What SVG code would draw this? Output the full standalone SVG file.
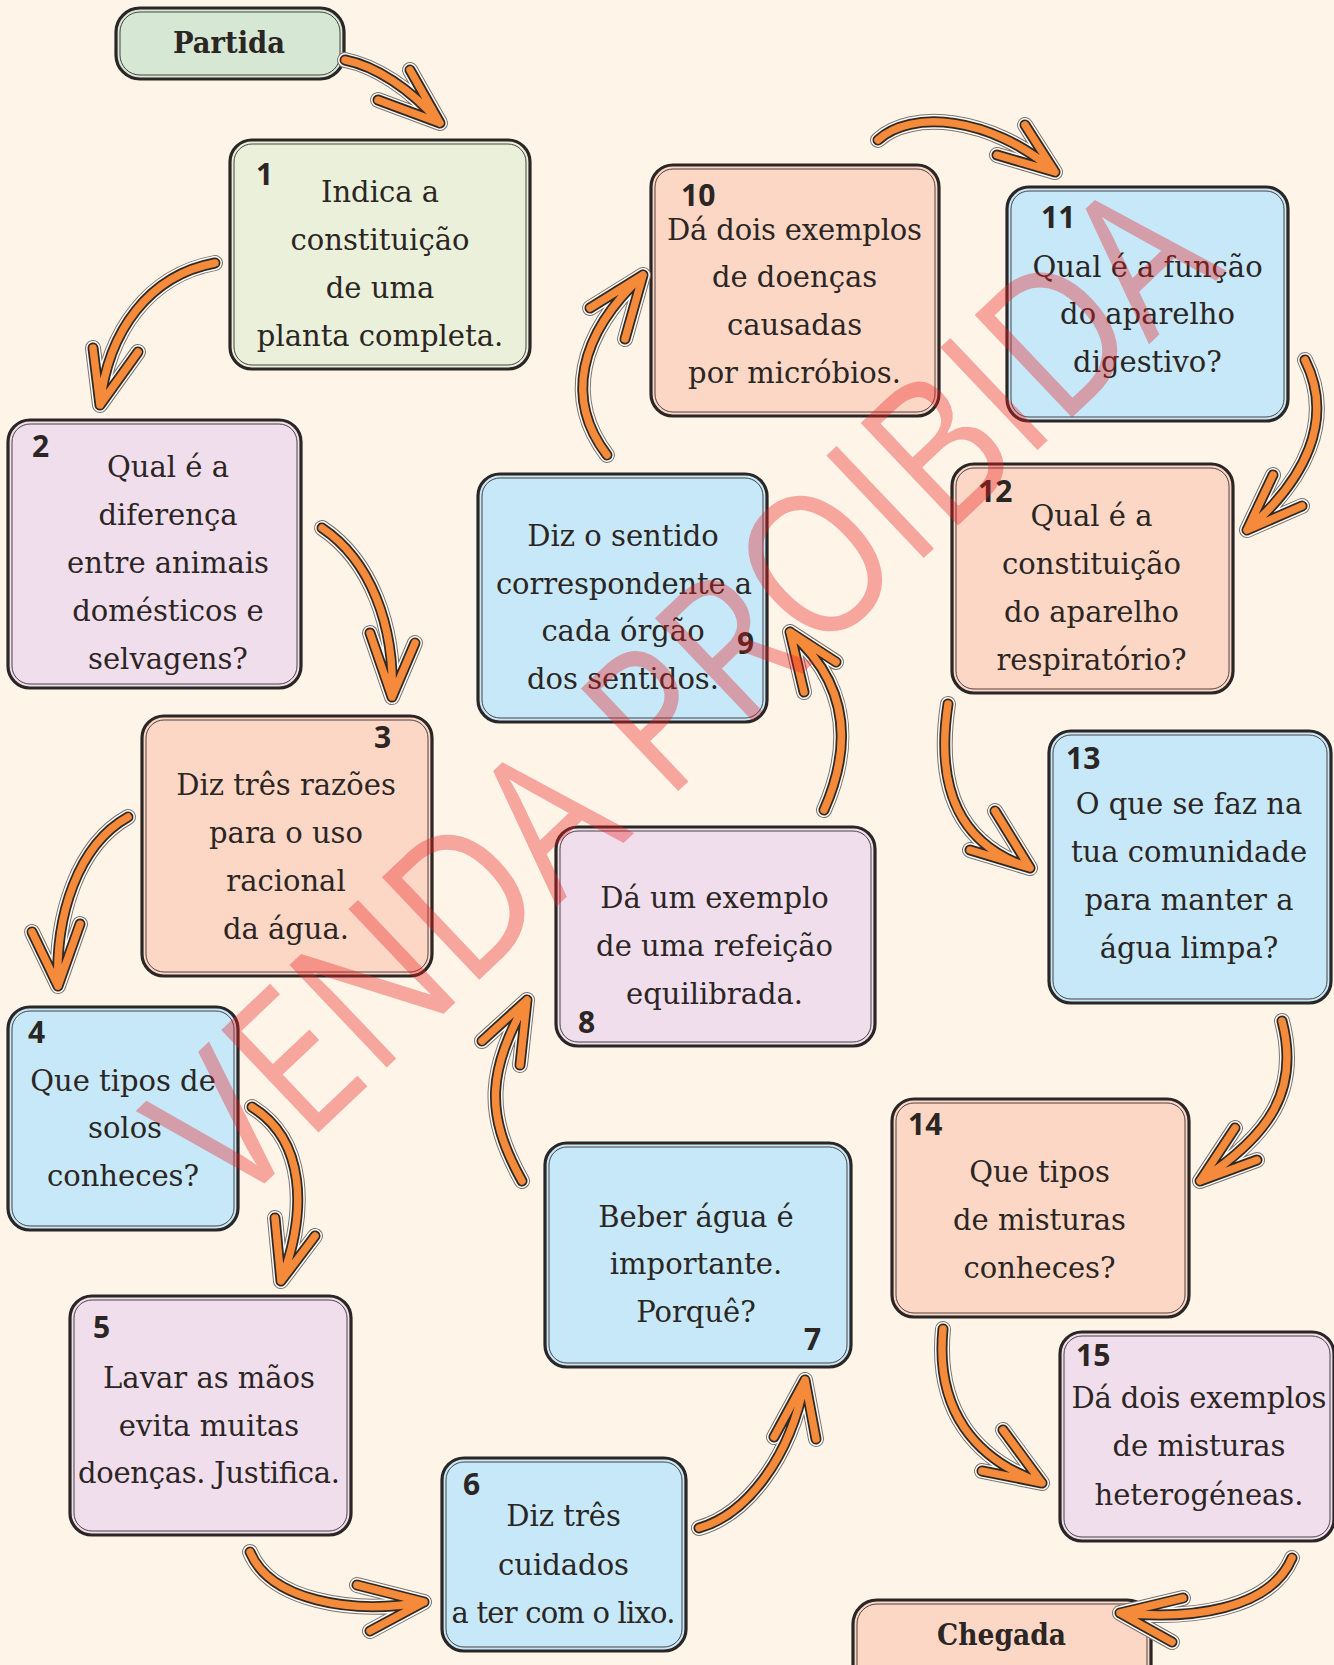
<svg xmlns="http://www.w3.org/2000/svg" xmlns:xlink="http://www.w3.org/1999/xlink" width="1334" height="1665" viewBox="0 0 1334 1665">
<defs>
<style>
.box{stroke:#2b2626;stroke-width:3.2}
.inner{fill:none;stroke:#4a4242;stroke-width:1}
.gr{fill:#d6e8d4}
.yg{fill:#eaf0da}
.li{fill:#f1deec}
.pe{fill:#fdd7c5}
.bl{fill:#c6e8f9}
.t{font-family:"DejaVu Serif","Liberation Serif",serif;font-size:29px;fill:#2b2523;text-anchor:middle}
.n{font-family:"Open Sans","DejaVu Sans",sans-serif;font-weight:700;font-size:30px;fill:#2b2523}
.lbl{font-family:"DejaVu Serif","Liberation Serif",serif;font-weight:700;font-size:30px;fill:#2b2523;text-anchor:middle}
.a1{fill:none;stroke:#7a7572;stroke-width:16;stroke-linecap:round;stroke-linejoin:round}
.a2{fill:none;stroke:#fffaf3;stroke-width:14;stroke-linecap:round;stroke-linejoin:round}
.a3{fill:none;stroke:#2d2926;stroke-width:11;stroke-linecap:round;stroke-linejoin:round}
.a4{fill:none;stroke:#f58b3a;stroke-width:7.5;stroke-linecap:round;stroke-linejoin:round}
.wm{font-family:"Open Sans","DejaVu Sans",sans-serif;font-weight:400;font-size:198px;fill:#eb1e1e;opacity:.36;text-anchor:middle}
</style>
<path id="p0" d="M345,60 C375,66 410,88 440,123 M410,70 L440,123 L378,100"/>
<path id="p1" d="M215,263 C150,275 108,330 100,405 M93,348 L100,405 L138,352"/>
<path id="p2" d="M322,528 C370,560 395,625 392,697 M370,633 L392,697 L415,643"/>
<path id="p3" d="M128,817 C78,845 55,915 58,986 M32,932 L58,986 L80,924"/>
<path id="p4" d="M252,1107 C305,1140 308,1210 281,1281 M275,1218 L281,1281 L315,1236"/>
<path id="p5" d="M250,1552 C270,1600 350,1615 424,1602 M357,1585 L424,1602 L370,1631"/>
<path id="p6" d="M699,1528 C745,1515 790,1460 805,1380 M774,1437 L805,1380 L816,1439"/>
<path id="p7" d="M522,1181 C483,1111 489,1070 527,1000 M482,1041 L527,1000 L520,1065"/>
<path id="p8" d="M824,810 C855,740 845,680 790,632 M804,692 L790,632 L836,662"/>
<path id="p9" d="M607,455 C565,400 578,335 643,275 M590,308 L643,275 L625,339"/>
<path id="p10" d="M878,140 C910,110 990,115 1055,172 M1025,125 L1055,172 L997,155"/>
<path id="p11" d="M1305,360 C1335,420 1305,480 1247,530 M1273,475 L1247,530 L1302,506"/>
<path id="p12" d="M948,704 C935,790 960,845 1030,868 M995,811 L1030,868 L970,850"/>
<path id="p13" d="M1282,1021 C1300,1090 1270,1135 1200,1181 M1235,1128 L1200,1181 L1257,1160"/>
<path id="p14" d="M943,1329 C935,1410 975,1460 1042,1483 M1003,1430 L1042,1483 L982,1471"/>
<path id="p15" d="M1292,1558 C1270,1610 1190,1620 1120,1613 M1183,1598 L1120,1613 L1172,1642"/>
</defs>
<rect x="0" y="0" width="1334" height="1665" fill="#fef5e8"/>

<g id="start">
<rect class="box gr" x="116" y="8" width="228" height="71" rx="24"/>
<rect class="inner" x="120" y="12" width="220" height="63" rx="20"/>
<text class="lbl" x="229" y="53" textLength="112" lengthAdjust="spacingAndGlyphs">Partida</text>
</g>

<g id="node-1">
<rect class="box yg" x="230" y="140" width="300" height="229" rx="22"/>
<rect class="inner" x="234" y="144" width="292" height="221" rx="18"/>
<text class="n" x="256" y="185">1</text>
<text class="t"><tspan x="380" y="202">Indica a</tspan><tspan x="380" y="250">constituição</tspan><tspan x="380" y="298">de uma</tspan><tspan x="380" y="346">planta completa.</tspan></text>
</g>

<g id="node-2">
<rect class="box li" x="8" y="420" width="293" height="268" rx="22"/>
<rect class="inner" x="12" y="424" width="285" height="260" rx="18"/>
<text class="n" x="32" y="457">2</text>
<text class="t"><tspan x="168" y="477">Qual é a</tspan><tspan x="168" y="525">diferença</tspan><tspan x="168" y="573">entre animais</tspan><tspan x="168" y="621">domésticos e</tspan><tspan x="168" y="669">selvagens?</tspan></text>
</g>

<g id="node-3">
<rect class="box pe" x="142" y="716" width="290" height="260" rx="22"/>
<rect class="inner" x="146" y="720" width="282" height="252" rx="18"/>
<text class="n" x="374" y="748">3</text>
<text class="t"><tspan x="286" y="795">Diz três razões</tspan><tspan x="286" y="843">para o uso</tspan><tspan x="286" y="891">racional</tspan><tspan x="286" y="939">da água.</tspan></text>
</g>

<g id="node-4">
<rect class="box bl" x="8" y="1007" width="230" height="223" rx="22"/>
<rect class="inner" x="12" y="1011" width="222" height="215" rx="18"/>
<text class="n" x="28" y="1043">4</text>
<text class="t"><tspan x="123" y="1091">Que tipos de</tspan><tspan x="125" y="1138">solos</tspan><tspan x="123" y="1186">conheces?</tspan></text>
</g>

<g id="node-5">
<rect class="box li" x="70" y="1296" width="281" height="239" rx="22"/>
<rect class="inner" x="74" y="1300" width="273" height="231" rx="18"/>
<text class="n" x="93" y="1338">5</text>
<text class="t"><tspan x="209" y="1388">Lavar as mãos</tspan><tspan x="209" y="1436">evita muitas</tspan><tspan x="209" y="1483" textLength="262">doenças. Justifica.</tspan></text>
</g>

<g id="node-6">
<rect class="box bl" x="442" y="1458" width="244" height="193" rx="22"/>
<rect class="inner" x="446" y="1462" width="236" height="185" rx="18"/>
<text class="n" x="463" y="1495">6</text>
<text class="t"><tspan x="563.5" y="1526">Diz três</tspan><tspan x="563.5" y="1575">cuidados</tspan><tspan x="563.5" y="1623" textLength="224">a ter com o lixo.</tspan></text>
</g>

<g id="node-7">
<rect class="box bl" x="545" y="1143" width="306" height="224" rx="22"/>
<rect class="inner" x="549" y="1147" width="298" height="216" rx="18"/>
<text class="n" x="804" y="1350">7</text>
<text class="t"><tspan x="696" y="1227">Beber água é</tspan><tspan x="696" y="1274">importante.</tspan><tspan x="696" y="1322">Porquê?</tspan></text>
</g>

<g id="node-8">
<rect class="box li" x="556" y="827" width="319" height="219" rx="22"/>
<rect class="inner" x="560" y="831" width="311" height="211" rx="18"/>
<text class="n" x="578" y="1033">8</text>
<text class="t"><tspan x="714.5" y="908">Dá um exemplo</tspan><tspan x="714.5" y="956">de uma refeição</tspan><tspan x="714.5" y="1004">equilibrada.</tspan></text>
</g>

<g id="node-9">
<rect class="box bl" x="478" y="474" width="289" height="248" rx="22"/>
<rect class="inner" x="482" y="478" width="281" height="240" rx="18"/>
<text class="n" x="737" y="654">9</text>
<text class="t"><tspan x="623" y="546">Diz o sentido</tspan><tspan x="624" y="594" textLength="256">correspondente a</tspan><tspan x="623" y="641">cada órgão</tspan><tspan x="623" y="689">dos sentidos.</tspan></text>
</g>

<g id="node-10">
<rect class="box pe" x="651" y="165" width="288" height="251" rx="22"/>
<rect class="inner" x="655" y="169" width="280" height="243" rx="18"/>
<text class="n" x="681" y="206">10</text>
<text class="t"><tspan x="794.5" y="240" textLength="255">Dá dois exemplos</tspan><tspan x="794.5" y="287">de doenças</tspan><tspan x="794.5" y="335">causadas</tspan><tspan x="794.5" y="383">por micróbios.</tspan></text>
</g>

<g id="node-11">
<rect class="box bl" x="1007" y="187" width="281" height="234" rx="22"/>
<rect class="inner" x="1011" y="191" width="273" height="226" rx="18"/>
<text class="n" x="1041" y="228">11</text>
<text class="t"><tspan x="1147.5" y="277">Qual é a função</tspan><tspan x="1147.5" y="324">do aparelho</tspan><tspan x="1147.5" y="372">digestivo?</tspan></text>
</g>

<g id="node-12">
<rect class="box pe" x="952" y="464" width="281" height="229" rx="22"/>
<rect class="inner" x="956" y="468" width="273" height="221" rx="18"/>
<text class="n" x="978" y="502">12</text>
<text class="t"><tspan x="1091.5" y="526">Qual é a</tspan><tspan x="1091.5" y="574">constituição</tspan><tspan x="1091.5" y="622">do aparelho</tspan><tspan x="1091.5" y="670">respiratório?</tspan></text>
</g>

<g id="node-13">
<rect class="box bl" x="1049" y="731" width="282" height="272" rx="22"/>
<rect class="inner" x="1053" y="735" width="274" height="264" rx="18"/>
<text class="n" x="1066" y="769">13</text>
<text class="t"><tspan x="1189" y="814">O que se faz na</tspan><tspan x="1189" y="862">tua comunidade</tspan><tspan x="1189" y="910">para manter a</tspan><tspan x="1189" y="958">água limpa?</tspan></text>
</g>

<g id="node-14">
<rect class="box pe" x="892" y="1099" width="297" height="218" rx="22"/>
<rect class="inner" x="896" y="1103" width="289" height="210" rx="18"/>
<text class="n" x="908" y="1135">14</text>
<text class="t"><tspan x="1039.5" y="1182">Que tipos</tspan><tspan x="1039.5" y="1230">de misturas</tspan><tspan x="1039.5" y="1278">conheces?</tspan></text>
</g>

<g id="node-15">
<rect class="box li" x="1060" y="1332" width="274" height="209" rx="22"/>
<rect class="inner" x="1064" y="1336" width="266" height="201" rx="18"/>
<text class="n" x="1076" y="1366">15</text>
<text class="t"><tspan x="1199" y="1408" textLength="255">Dá dois exemplos</tspan><tspan x="1199" y="1456">de misturas</tspan><tspan x="1199" y="1505">heterogéneas.</tspan></text>
</g>

<g id="end">
<rect class="box pe" x="853" y="1600" width="298" height="90" rx="24"/>
<rect class="inner" x="857" y="1604" width="290" height="82" rx="20"/>
<text class="lbl" x="1001.5" y="1645" textLength="129" lengthAdjust="spacingAndGlyphs">Chegada</text>
</g>

<g id="connectors">
<g id="c-start-1"><use href="#p0" class="a1"/><use href="#p0" class="a2"/><use href="#p0" class="a3"/><use href="#p0" class="a4"/></g>
<g id="c-1-2"><use href="#p1" class="a1"/><use href="#p1" class="a2"/><use href="#p1" class="a3"/><use href="#p1" class="a4"/></g>
<g id="c-2-3"><use href="#p2" class="a1"/><use href="#p2" class="a2"/><use href="#p2" class="a3"/><use href="#p2" class="a4"/></g>
<g id="c-3-4"><use href="#p3" class="a1"/><use href="#p3" class="a2"/><use href="#p3" class="a3"/><use href="#p3" class="a4"/></g>
<g id="c-4-5"><use href="#p4" class="a1"/><use href="#p4" class="a2"/><use href="#p4" class="a3"/><use href="#p4" class="a4"/></g>
<g id="c-5-6"><use href="#p5" class="a1"/><use href="#p5" class="a2"/><use href="#p5" class="a3"/><use href="#p5" class="a4"/></g>
<g id="c-6-7"><use href="#p6" class="a1"/><use href="#p6" class="a2"/><use href="#p6" class="a3"/><use href="#p6" class="a4"/></g>
<g id="c-7-8"><use href="#p7" class="a1"/><use href="#p7" class="a2"/><use href="#p7" class="a3"/><use href="#p7" class="a4"/></g>
<g id="c-8-9"><use href="#p8" class="a1"/><use href="#p8" class="a2"/><use href="#p8" class="a3"/><use href="#p8" class="a4"/></g>
<g id="c-9-10"><use href="#p9" class="a1"/><use href="#p9" class="a2"/><use href="#p9" class="a3"/><use href="#p9" class="a4"/></g>
<g id="c-10-11"><use href="#p10" class="a1"/><use href="#p10" class="a2"/><use href="#p10" class="a3"/><use href="#p10" class="a4"/></g>
<g id="c-11-12"><use href="#p11" class="a1"/><use href="#p11" class="a2"/><use href="#p11" class="a3"/><use href="#p11" class="a4"/></g>
<g id="c-12-13"><use href="#p12" class="a1"/><use href="#p12" class="a2"/><use href="#p12" class="a3"/><use href="#p12" class="a4"/></g>
<g id="c-13-14"><use href="#p13" class="a1"/><use href="#p13" class="a2"/><use href="#p13" class="a3"/><use href="#p13" class="a4"/></g>
<g id="c-14-15"><use href="#p14" class="a1"/><use href="#p14" class="a2"/><use href="#p14" class="a3"/><use href="#p14" class="a4"/></g>
<g id="c-15-end"><use href="#p15" class="a1"/><use href="#p15" class="a2"/><use href="#p15" class="a3"/><use href="#p15" class="a4"/></g>
</g>

<text class="wm" x="730" y="742" transform="rotate(-43.5 730 742)" textLength="1370" lengthAdjust="spacingAndGlyphs">VENDA PROIBIDA</text>
</svg>
